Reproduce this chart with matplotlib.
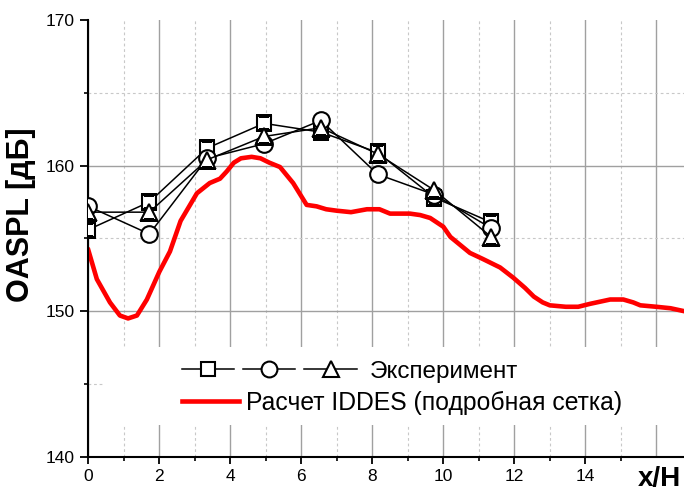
import matplotlib

matplotlib.use("Agg")

import matplotlib.pyplot as plt
from matplotlib.legend_handler import HandlerTuple
from matplotlib.patches import Polygon, Rectangle
from matplotlib.ticker import FixedLocator, MultipleLocator

plt.rcParams["font.family"] = ["Liberation Sans", "DejaVu Sans"]

# Эксперимент: три серии замеров на одних и тех же x/H
x_exp = [0.0, 1.72, 3.35, 4.95, 6.55, 8.15, 9.75, 11.35]
oaspl_sq = [155.6, 157.5, 161.2, 162.9, 162.3, 160.9, 157.8, 156.1]
oaspl_circ = [157.2, 155.3, 160.5, 161.5, 163.1, 159.4, 158.0, 155.7]
oaspl_tri = [156.8, 156.8, 160.4, 162.0, 162.6, 160.8, 158.3, 155.1]

# Расчет IDDES (подробная сетка)
x_calc = [0.0, 0.24, 0.61, 0.89, 1.12, 1.37, 1.65, 2.0, 2.3, 2.6, 3.06, 3.42,
          3.71, 3.9, 4.1, 4.3, 4.6, 4.85, 5.1, 5.4, 5.77, 6.15, 6.43, 6.7,
          7.0, 7.4, 7.85, 8.2, 8.5, 8.8, 9.06, 9.35, 9.63, 10.0, 10.2, 10.55,
          10.75, 11.1, 11.6, 11.97, 12.3, 12.55, 12.8, 13.0, 13.45, 13.8,
          14.13, 14.7, 15.07, 15.35, 15.55, 16.0, 16.4, 16.78]
oaspl_calc = [154.2, 152.2, 150.6, 149.7, 149.5, 149.7, 150.8, 152.7, 154.1,
              156.2, 158.1, 158.8, 159.1, 159.6, 160.2, 160.5, 160.6, 160.5,
              160.2, 159.9, 158.8, 157.3, 157.2, 157.0, 156.9, 156.8, 157.0,
              157.0, 156.7, 156.7, 156.7, 156.6, 156.4, 155.8, 155.1, 154.4,
              154.0, 153.6, 153.0, 152.3, 151.6, 151.0, 150.6, 150.4, 150.3,
              150.3, 150.5, 150.8, 150.8, 150.6, 150.4, 150.3, 150.2, 150.0]

x_major = [0, 2, 4, 6, 8, 10, 12, 14, 16]
x_labels = ["0", "2", "4", "6", "8", "10", "12", "14", ""]
y_major = [140, 150, 160, 170]

fig = plt.figure(figsize=(6.84, 4.93), dpi=100)
ax = fig.add_axes([0.1291, 0.0736, 0.8709, 0.8858])

marker_kw = dict(color="black", linewidth=1.1, markerfacecolor="white",
                 markeredgecolor="black", markeredgewidth=1.5, zorder=3)
h_sq, = ax.plot(x_exp, oaspl_sq, marker="s", markersize=10, **marker_kw)
h_circ, = ax.plot(x_exp, oaspl_circ, marker="o", markersize=12, **marker_kw)
h_tri, = ax.plot(x_exp, oaspl_tri, marker="^", markersize=12, **marker_kw)
h_calc, = ax.plot(x_calc, oaspl_calc, color="#ff0000", linewidth=3.3, zorder=2)

# обрезка маркеров по границе осей: нужен именно путь, а не bbox,
# иначе Agg не режет маркеры
clip_poly = Polygon([(0, 0), (1, 0), (1, 1), (0, 1)], closed=True,
                    transform=ax.transAxes)
for h in (h_sq, h_circ, h_tri):
    h.set_clip_path(clip_poly)

ax.set_xlim(0, 16.78)
ax.set_ylim(140, 170)

ax.xaxis.set_major_locator(FixedLocator(x_major))
ax.set_xticklabels(x_labels)
ax.xaxis.set_minor_locator(FixedLocator([1, 3, 5, 7, 9, 11, 13, 15]))
ax.yaxis.set_major_locator(FixedLocator(y_major))
ax.yaxis.set_minor_locator(MultipleLocator(5))

ax.tick_params(axis="both", which="major", direction="out", width=1.3,
               labelsize=12.5, colors="black")
ax.tick_params(axis="y", which="major", length=6)
ax.tick_params(axis="x", which="major", length=5)
ax.tick_params(axis="both", which="minor", direction="out", width=1.2, length=3)

ax.set_axisbelow(True)
ax.grid(True, which="major", color="#a0a0a0", linewidth=1.0, linestyle="-")
ax.grid(True, which="minor", color="#c8c8c8", linewidth=0.8,
        linestyle=(0, (2.5, 2.5)))

# без тика и подписи у 16 (там стоит x/H), без сетки по верхней границе
ax.xaxis.get_major_ticks()[-1].tick1line.set_visible(False)
ax.yaxis.get_major_ticks()[-1].gridline.set_visible(False)

for side in ("top", "right"):
    ax.spines[side].set_visible(False)
for side in ("left", "bottom"):
    ax.spines[side].set_linewidth(1.5)

ax.set_ylabel("OASPL [дБ]", fontsize=22, fontweight="bold")
ax.yaxis.set_label_coords(-0.088, 0.555)
ax.set_xlabel("x/H", fontsize=20, fontweight="bold")
ax.xaxis.set_label_coords(0.958, -0.022)

# белая подложка под легендой
ax.add_patch(Rectangle((0.028, 0.0726), 0.98, 0.178, transform=ax.transAxes,
                       facecolor="white", edgecolor="none", zorder=1,
                       clip_on=False))

leg1 = ax.legend([(h_sq, h_circ, h_tri)], ["Эксперимент"],
                 handler_map={tuple: HandlerTuple(ndivide=None, pad=0.37)},
                 loc="center left", bbox_to_anchor=(0.157, 0.194),
                 frameon=False, borderpad=0, borderaxespad=0, fontsize=17.5,
                 handlelength=7.2, handletextpad=0.53, markerscale=0.95)
ax.add_artist(leg1)
ax.legend([h_calc], ["Расчет IDDES (подробная сетка)"],
          loc="center left", bbox_to_anchor=(0.157, 0.123),
          frameon=False, borderpad=0, borderaxespad=0, fontsize=17.8,
          handlelength=2.3, handletextpad=0.29)

fig.savefig("out.png", dpi=100)
plt.close(fig)
